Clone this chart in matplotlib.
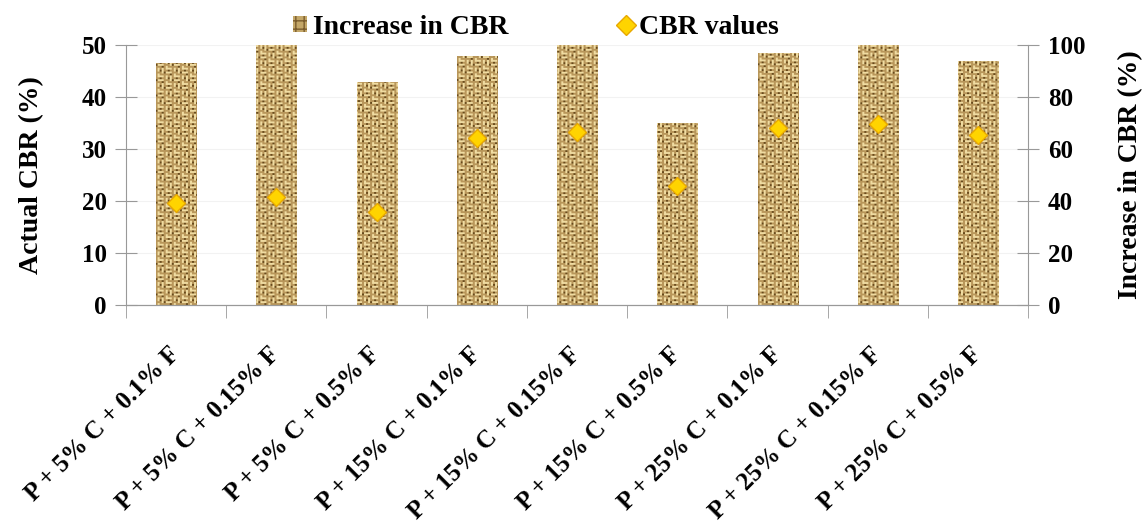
import matplotlib
matplotlib.use("Agg")
import matplotlib.pyplot as plt
import numpy as np
from matplotlib.colors import ListedColormap
from matplotlib.lines import Line2D
from matplotlib.patches import Patch

mixes = [
    "P + 5% C + 0.1% F",
    "P + 5% C + 0.15% F",
    "P + 5% C + 0.5% F",
    "P + 15% C + 0.1% F",
    "P + 15% C + 0.15% F",
    "P + 15% C + 0.5% F",
    "P + 25% C + 0.1% F",
    "P + 25% C + 0.15% F",
    "P + 25% C + 0.5% F",
]
increase_cbr = [93, 100, 86, 96, 100, 70, 97, 100, 94]
cbr_values = [19.6, 20.8, 17.9, 32.1, 33.3, 22.9, 34.0, 34.8, 32.7]

plt.rcParams["font.family"] = ["Liberation Serif", "DejaVu Serif"]
plt.rcParams["font.weight"] = "bold"

fig = plt.figure(figsize=(11.45, 5.25), dpi=100)
ax = fig.add_axes([0.110, 0.419, 0.788, 0.495])
ax2 = ax.twinx()

x = np.arange(len(mixes))

# woven burlap texture used to fill the bars
tile = np.zeros((8, 8))
tile[0:4, 0:4] = [[0, 0, 0, 1], [1, 2, 1, 1], [0, 0, 0, 1], [1, 1, 2, 1]]
tile[0:4, 4:8] = [[0, 1, 0, 1], [0, 2, 0, 1], [1, 1, 0, 2], [0, 1, 1, 1]]
tile[4:8, 0:4] = tile[0:4, 4:8]
tile[4:8, 4:8] = tile[0:4, 0:4]
tile = np.kron(tile, np.ones((2, 2)))
weave = np.tile(tile, (17, 57))
weave_cmap = ListedColormap(["#f0dca2", "#b8965a", "#684a1c"])

bars = ax2.bar(x, increase_cbr, width=0.4, color="none", edgecolor="none", zorder=2)
for bar in bars:
    img = ax2.imshow(weave, cmap=weave_cmap, interpolation="bilinear",
                     extent=(-0.5, len(mixes) - 0.5, 0, 100), aspect="auto",
                     zorder=2)
    img.set_clip_path(bar)

ax.plot(x, cbr_values, linestyle="none", marker="D", markersize=9,
        markerfacecolor="#ffd400", markeredgecolor="#e8a800",
        markeredgewidth=1.0, zorder=5)

ax.set_zorder(ax2.get_zorder() + 1)
ax.patch.set_visible(False)

ax.set_xlim(-0.5, len(mixes) - 0.5)
ax.set_ylim(0, 50)
ax2.set_ylim(0, 100)
ax.set_yticks(range(0, 51, 10))
ax2.set_yticks(range(0, 101, 20))
ax2.yaxis.grid(True, color="#f2f2f2", linewidth=0.8, zorder=0)
ax2.set_axisbelow(True)

ax.set_xticks(x)
ax.set_xticklabels(mixes, rotation=45, ha="right", va="center",
                   rotation_mode="anchor", fontsize=18, fontweight="bold")
ax.set_xticks(np.arange(-0.5, len(mixes)), minor=True)
ax.tick_params(axis="x", which="major", length=0, pad=33)
ax.tick_params(axis="x", which="minor", length=9, color="#999999", direction="out")

for a in (ax, ax2):
    a.spines["top"].set_visible(False)
    for side in ("left", "right", "bottom"):
        a.spines[side].set_color("#999999")
ax.spines["right"].set_visible(False)
ax2.spines["left"].set_visible(False)

for a in (ax, ax2):
    a.tick_params(axis="y", direction="inout", length=16, color="#999999",
                  labelsize=18, pad=6)
    for lab in a.get_yticklabels():
        lab.set_fontweight("bold")

ax.set_ylabel("Actual CBR (%)", fontsize=20, fontweight="bold", labelpad=27)
ax2.set_ylabel("Increase in CBR (%)", fontsize=20, fontweight="bold", labelpad=24)

handles = [
    Patch(facecolor="#c4a768", edgecolor="#7a5c2c", hatch="++", linewidth=0),
    Line2D([], [], linestyle="none", marker="D", markersize=10,
           markerfacecolor="#ffd400", markeredgecolor="#e8a800"),
]
fig.legend(handles, ["Increase in CBR", "CBR values"], loc="upper center",
           bbox_to_anchor=(0.468, 1.02), ncol=2, frameon=False,
           prop={"size": 20, "weight": "bold"}, handlelength=0.5,
           handleheight=0.5, handletextpad=0.2, columnspacing=4.0)

fig.savefig("out.png", dpi=100)
